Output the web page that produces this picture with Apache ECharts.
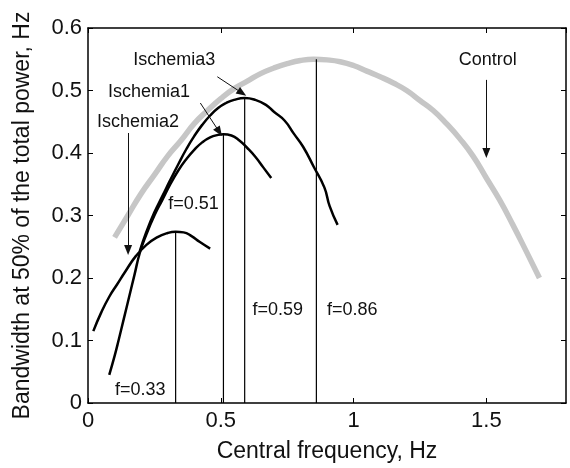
<!DOCTYPE html>
<html>
<head>
<meta charset="utf-8">
<script src="https://cdn.jsdelivr.net/npm/echarts@6/dist/echarts.min.js"></script>
<style>
html, body { margin: 0; padding: 0; background: #fff; }
#chart { width: 570px; height: 468px; }
</style>
</head>
<body>
<div id="chart"></div>
<script>
// control curve (grey)
var controlX = [0.10, 0.15, 0.20, 0.25, 0.30, 0.35, 0.40, 0.45, 0.50, 0.55, 0.60, 0.65, 0.70, 0.75, 0.80, 0.85, 0.90,
    0.95, 1.00, 1.05, 1.10, 1.15, 1.20, 1.25, 1.30, 1.35, 1.40, 1.45, 1.50, 1.55, 1.60, 1.65, 1.70];
var controlY = [0.265, 0.30, 0.335, 0.365, 0.395, 0.42, 0.447, 0.468, 0.487, 0.503, 0.515, 0.527, 0.536, 0.543, 0.548, 0.55, 0.549,
    0.546, 0.54, 0.531, 0.522, 0.512, 0.50, 0.484, 0.468, 0.447, 0.423, 0.395, 0.36, 0.325, 0.285, 0.243, 0.20];

var isch1X = [0.08, 0.10, 0.115, 0.135, 0.155, 0.175, 0.195, 0.22, 0.25, 0.28, 0.31, 0.34, 0.37, 0.40, 0.43, 0.46, 0.49,
    0.51, 0.54, 0.57, 0.60, 0.63, 0.66, 0.69];
var isch1Y = [0.045, 0.075, 0.10, 0.135, 0.17, 0.205, 0.24, 0.27, 0.30, 0.325, 0.35, 0.372, 0.39, 0.405, 0.417, 0.425, 0.429,
    0.43, 0.428, 0.42, 0.408, 0.394, 0.377, 0.36];

var isch2X = [0.02, 0.05, 0.08, 0.11, 0.14, 0.18, 0.22, 0.26, 0.30, 0.33, 0.36, 0.39, 0.42, 0.46];
var isch2Y = [0.115, 0.145, 0.17, 0.19, 0.21, 0.235, 0.253, 0.265, 0.272, 0.274, 0.273, 0.267, 0.258, 0.247];

var isch3X = [0.195, 0.22, 0.25, 0.28, 0.31, 0.34, 0.37, 0.40, 0.43, 0.46, 0.49, 0.52, 0.55, 0.59, 0.63, 0.67, 0.70,
    0.74, 0.775, 0.81, 0.85, 0.89, 0.91, 0.94];
var isch3Y = [0.243, 0.274, 0.305, 0.331, 0.357, 0.382, 0.406, 0.427, 0.445, 0.46, 0.472, 0.48, 0.485, 0.488, 0.485, 0.477, 0.466,
    0.452, 0.431, 0.41, 0.378, 0.345, 0.315, 0.285];

// central frequencies and the peak they reach
var fVals = [0.33, 0.51, 0.59, 0.86];
var fPeaks = [0.274, 0.43, 0.487, 0.55];

var xTicks = [0, 0.5, 1, 1.5];

// annotation texts with their anchor (data space)
var notes = [
    ['Ischemia3', 0.17, 0.549],
    ['Ischemia1', 0.075, 0.498],
    ['Ischemia2', 0.034, 0.45],
    ['Control', 1.396, 0.549],
    ['f=0.51', 0.302, 0.318],
    ['f=0.33', 0.102, 0.021],
    ['f=0.59', 0.619, 0.149],
    ['f=0.86', 0.90, 0.149]
];
// arrows: [fromX, fromY, toX, toY]
var arrows = [
    [0.487, 0.522, 0.58, 0.496],
    [0.423, 0.48, 0.494, 0.434],
    [0.151, 0.432, 0.151, 0.245],
    [1.50, 0.517, 1.50, 0.40]
];

function zip(xs, ys) {
    return xs.map(function (x, i) { return [x, ys[i]]; });
}

var font = 'Liberation Sans, Arial, sans-serif';
var ink = '#111';

var chart = echarts.init(document.getElementById('chart'));

var series = [
    {
        type: 'line', data: zip(controlX, controlY), showSymbol: false, smooth: true,
        lineStyle: { color: '#c6c6c6', width: 5.5 }, z: 1
    },
    {
        type: 'line', data: zip(isch2X, isch2Y), showSymbol: false, smooth: true,
        lineStyle: { color: '#000', width: 2.5 }, z: 3
    },
    {
        type: 'line', data: zip(isch1X, isch1Y), showSymbol: false, smooth: true,
        lineStyle: { color: '#000', width: 2.5 }, z: 3
    },
    {
        type: 'line', data: zip(isch3X, isch3Y), showSymbol: false, smooth: true,
        lineStyle: { color: '#000', width: 2.5 }, z: 3
    }
];

fVals.forEach(function (f, i) {
    series.push({
        type: 'line', data: [[f, 0], [f, fPeaks[i]]], showSymbol: false,
        lineStyle: { color: '#000', width: 1.2 }, z: 2
    });
});

series.push({
    type: 'scatter', symbolSize: 0, z: 5,
    itemStyle: { opacity: 1 },
    data: notes.map(function (n) {
        return { value: [n[1], n[2]], label: { formatter: n[0] } };
    }),
    label: { show: true, position: 'right', distance: 0, color: ink, opacity: 1, fontSize: 18, fontFamily: font },
    markLine: {
        silent: true,
        symbol: ['none', 'triangle'],
        symbolSize: [8, 10],
        label: { show: false },
        lineStyle: { color: '#111', width: 1, type: 'solid', opacity: 1 },
        data: arrows.map(function (a) {
            return [{ coord: [a[0], a[1]] }, { coord: [a[2], a[3]] }];
        })
    }
});

var option = {
    animation: false,
    backgroundColor: '#fff',
    grid: { left: 88, right: 4, top: 28, bottom: 65 },
    xAxis: [
        {
            type: 'value', min: 0, max: 1.8, interval: 0.5,
            name: 'Central frequency, Hz', nameLocation: 'middle', nameGap: 37,
            nameTextStyle: { color: ink, fontSize: 23, fontFamily: font },
            axisLine: { onZero: false, lineStyle: { color: '#000', width: 1.5 } },
            axisTick: { inside: true, length: 5, lineStyle: { color: '#000' } },
            axisLabel: {
                color: ink, fontSize: 22, fontFamily: font, margin: 7, showMaxLabel: false,
                formatter: function (v) { return xTicks.indexOf(v) >= 0 ? String(v) : ''; }
            },
            splitLine: { show: false }
        },
        {
            type: 'value', min: 0, max: 1.8, interval: 0.5, position: 'top',
            axisLine: { show: true, onZero: false, lineStyle: { color: '#000', width: 1.5 } },
            axisTick: { inside: true, length: 5, lineStyle: { color: '#000' } },
            axisLabel: { show: false }, splitLine: { show: false }
        }
    ],
    yAxis: [
        {
            type: 'value', min: 0, max: 0.6, interval: 0.1,
            name: 'Bandwidth at 50% of the total power, Hz', nameLocation: 'middle', nameGap: 54,
            nameTextStyle: { color: ink, fontSize: 23, fontFamily: font },
            axisLine: { show: true, onZero: false, lineStyle: { color: '#000', width: 1.5 } },
            axisTick: { show: true, inside: true, length: 5, lineStyle: { color: '#000' } },
            axisLabel: { color: ink, fontSize: 22, fontFamily: font, margin: 6 },
            splitLine: { show: false }
        },
        {
            type: 'value', min: 0, max: 0.6, interval: 0.1, position: 'right',
            axisLine: { show: true, onZero: false, lineStyle: { color: '#000', width: 1.5 } },
            axisTick: { show: true, inside: true, length: 5, lineStyle: { color: '#000' } },
            axisLabel: { show: false }, splitLine: { show: false }
        }
    ],
    series: series
};

chart.setOption(option);
</script>
</body>
</html>
